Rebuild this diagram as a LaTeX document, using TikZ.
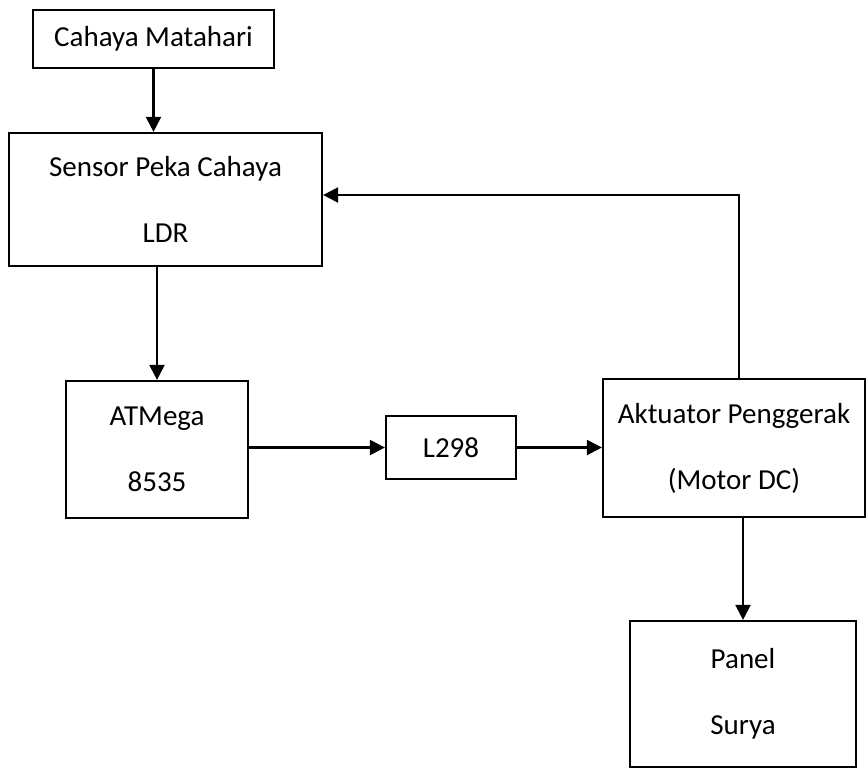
\documentclass[tikz,border=0pt]{standalone}
\usepackage{fontspec}
\setmainfont{Carlito}
\usetikzlibrary{arrows.meta}
\begin{document}
\begin{tikzpicture}[x=1pt,y=-1pt,
  blok/.style={draw=black,line width=2.2pt,rectangle,inner sep=0pt,align=center,
    font=\fontsize{29}{66}\selectfont},
  arr/.style={line width=2.2pt,-{Triangle[length=15pt,width=15pt]}}]
\useasboundingbox (0,0) rectangle (866,769);
\fill[white] (0,0) rectangle (866,769);
\node[blok,minimum width=241pt,minimum height=58pt] (cah) at (153.5,39) {Cahaya Matahari};
\node[blok,minimum width=313pt,minimum height=133pt] (sens) at (165.5,199.5) {Sensor Peka Cahaya\\LDR};
\node[blok,minimum width=182pt,minimum height=137pt] (atm) at (157,449.5) {ATMega\\8535};
\node[blok,minimum width=130pt,minimum height=63pt] (drv) at (451,447.5) {L298};
\node[blok,minimum width=262pt,minimum height=138pt] (akt) at (734,448) {Aktuator Penggerak\\(Motor DC)};
\node[blok,minimum width=226pt,minimum height=146pt] (pan) at (743,694) {Panel\\Surya};
\coordinate (fb) at (739,195);
\draw[arr] (cah.south) -- (sens.north -| cah.south);
\draw[arr] (sens.south -| atm.north) -- (atm.north);
\draw[arr] (atm.east |- drv.west) -- (drv.west);
\draw[arr] (drv.east) -- (akt.west |- drv.east);
\draw[arr] (akt.south -| pan.north) -- (pan.north);
\draw[arr] (akt.north -| fb) |- (sens.east |- fb);
\end{tikzpicture}
\end{document}
